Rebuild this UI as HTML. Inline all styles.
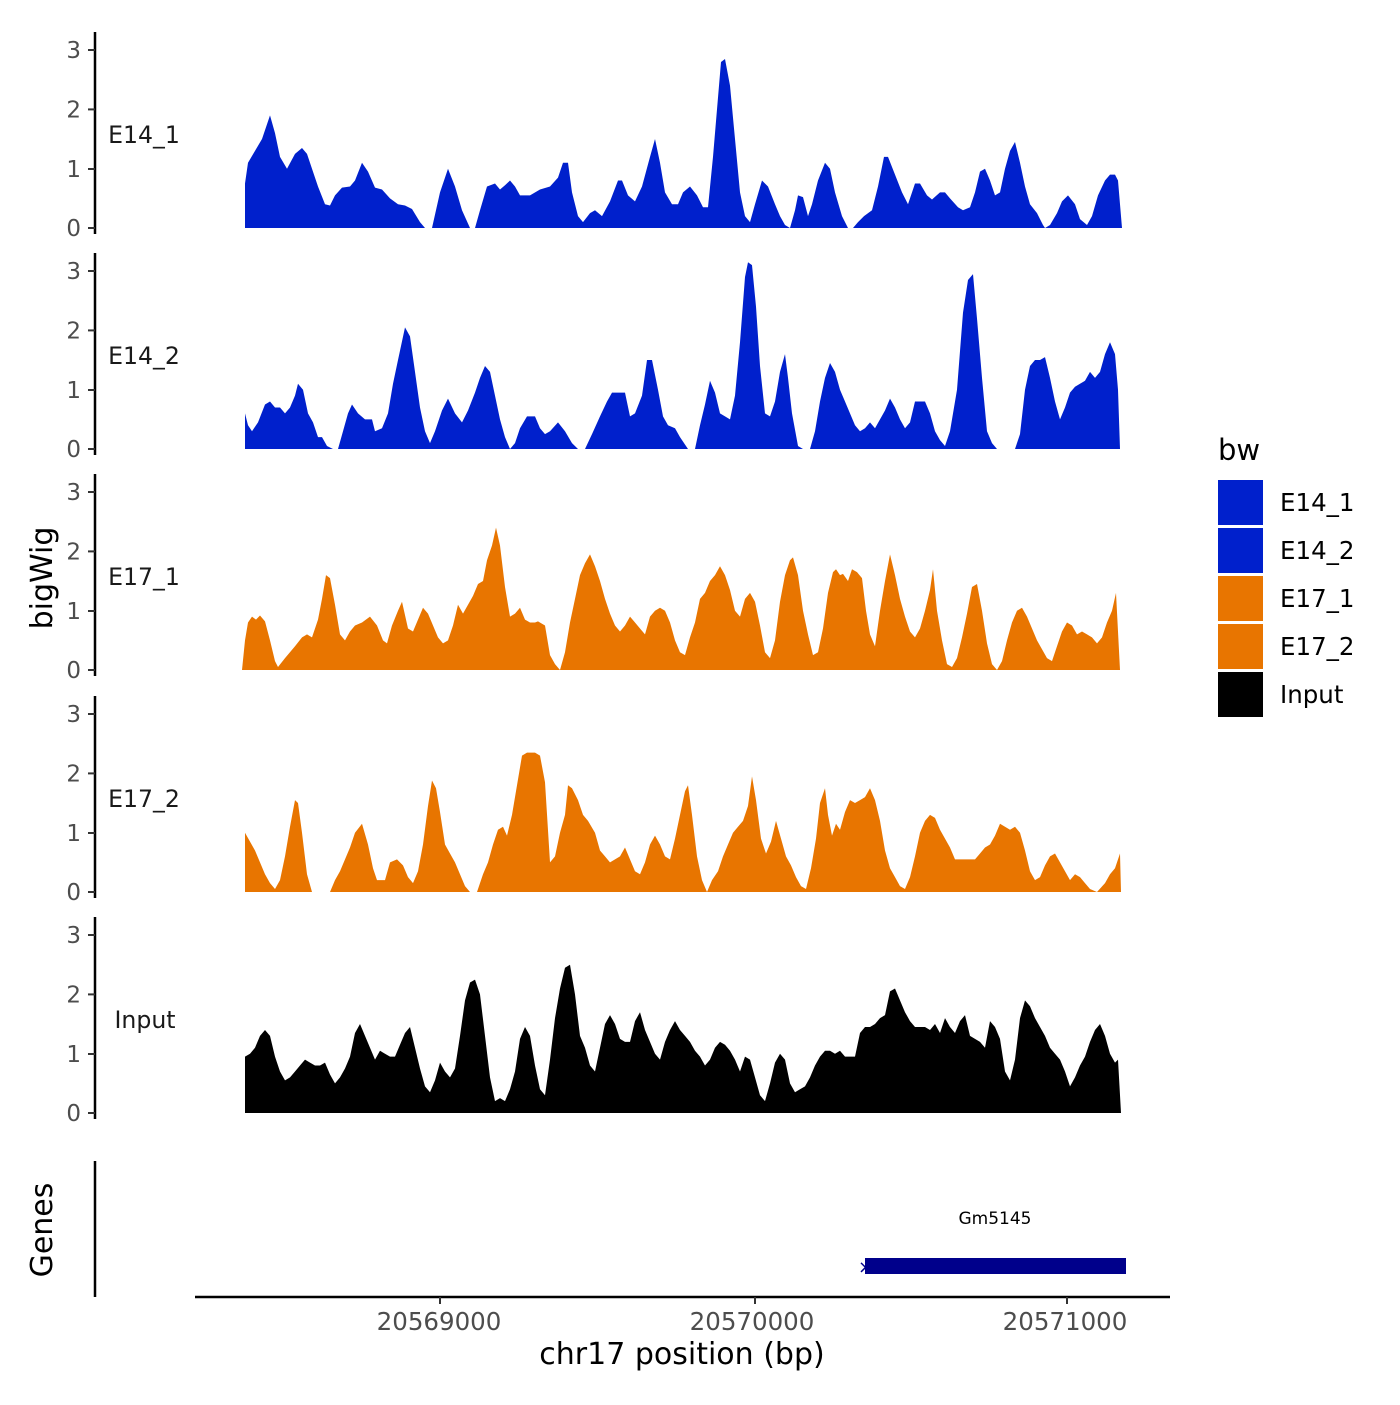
<!DOCTYPE html>
<html><head><meta charset="utf-8"><style>
body{margin:0;background:#fff}
svg text{font-family:"DejaVu Sans","Liberation Sans",sans-serif}
</style></head><body>
<svg width="1400" height="1400" viewBox="0 0 1400 1400" xmlns="http://www.w3.org/2000/svg">
<rect width="1400" height="1400" fill="#fff"/>
<defs>
<g id="yax">
<line x1="95" y1="-196" x2="95" y2="6" stroke="#000" stroke-width="2.5"/>
<g stroke="#333" stroke-width="2">
<line x1="88" y1="0" x2="95" y2="0"/><line x1="88" y1="-59" x2="95" y2="-59"/>
<line x1="88" y1="-118.6" x2="95" y2="-118.6"/><line x1="88" y1="-178" x2="95" y2="-178"/></g>
<g fill="#4d4d4d" font-size="23" text-anchor="end">
<text x="81" y="8">0</text><text x="81" y="-51">1</text><text x="81" y="-110.6">2</text><text x="81" y="-170">3</text></g>
</g>
</defs>

<g transform="translate(0,228)"><use href="#yax"/>
<polygon fill="#0020CC" transform="scale(1,-59.3)" points="245,0 245,0.75 248,1.1 255,1.3 262,1.5 270,1.9 275,1.6 280,1.2 287,1.0 295,1.25 302,1.35 307,1.25 312,1.0 318,0.7 325,0.4 330,0.38 335,0.55 342,0.68 350,0.7 355,0.8 362,1.1 368,0.95 375,0.68 382,0.65 390,0.5 398,0.4 405,0.38 412,0.32 420,0.1 425,0 432,0 440,0.6 448,1.0 455,0.7 462,0.3 470,0 475,0 480,0.3 487,0.7 495,0.75 500,0.65 505,0.72 510,0.8 515,0.7 520,0.55 530,0.55 540,0.65 550,0.7 558,0.85 563,1.1 568,1.1 572,0.6 578,0.2 583,0.1 590,0.25 595,0.3 602,0.2 610,0.45 618,0.8 622,0.8 628,0.55 635,0.45 642,0.7 650,1.2 655,1.5 660,1.1 665,0.6 672,0.4 678,0.4 683,0.6 690,0.7 697,0.55 703,0.35 708,0.35 713,1.2 718,2.2 721,2.8 725,2.85 730,2.4 735,1.5 740,0.6 745,0.2 750,0.1 755,0.4 762,0.8 768,0.7 775,0.4 780,0.2 785,0.05 790,0 795,0.3 798,0.55 803,0.52 808,0.2 812,0.4 818,0.8 825,1.1 830,1.0 835,0.6 842,0.2 848,0 853,0 858,0.1 864,0.2 872,0.3 878,0.7 884,1.2 888,1.2 895,0.9 902,0.6 908,0.4 915,0.75 920,0.75 927,0.55 932,0.48 940,0.6 945,0.6 950,0.5 958,0.35 963,0.3 970,0.35 975,0.6 980,0.95 985,1.0 990,0.8 995,0.55 1000,0.6 1005,1.0 1010,1.3 1015,1.45 1020,1.1 1025,0.7 1030,0.4 1037,0.25 1043,0.05 1045,0 1050,0.05 1057,0.25 1062,0.45 1068,0.55 1075,0.4 1080,0.15 1087,0.05 1092,0.2 1098,0.55 1105,0.8 1110,0.9 1115,0.9 1118,0.8 1122,0"/>
<text x="144" y="-85" font-size="23.6" text-anchor="middle" fill="#1a1a1a">E14_1</text></g>

<g transform="translate(0,449)"><use href="#yax"/>
<polygon fill="#0020CC" transform="scale(1,-59.3)" points="245,0 245,0.6 248,0.4 252,0.3 258,0.45 265,0.75 270,0.8 275,0.7 280,0.7 285,0.6 290,0.7 295,0.9 298,1.1 303,1.0 308,0.6 313,0.45 318,0.2 322,0.2 327,0.05 333,0 338,0 343,0.3 348,0.6 352,0.75 358,0.6 365,0.5 372,0.5 375,0.3 382,0.35 388,0.6 393,1.1 398,1.5 405,2.05 410,1.9 415,1.3 420,0.7 425,0.3 430,0.1 435,0.3 442,0.65 448,0.85 455,0.6 462,0.45 468,0.65 475,0.95 480,1.2 485,1.4 490,1.3 495,0.9 500,0.5 505,0.2 510,0 515,0.1 520,0.35 527,0.55 535,0.55 540,0.35 545,0.25 550,0.3 558,0.45 565,0.3 572,0.1 578,0 585,0 592,0.25 600,0.55 607,0.8 612,0.95 625,0.95 630,0.55 635,0.6 642,0.9 647,1.5 652,1.5 658,1.0 663,0.55 668,0.4 675,0.35 680,0.2 688,0 695,0 700,0.4 705,0.75 710,1.15 715,0.95 720,0.6 725,0.55 730,0.5 735,0.9 740,1.8 745,2.9 748,3.15 752,3.1 756,2.4 760,1.4 765,0.6 770,0.55 775,0.8 780,1.3 785,1.6 788,1.2 792,0.6 798,0.05 803,0 810,0 815,0.3 820,0.8 825,1.2 830,1.45 835,1.3 840,1.0 845,0.8 850,0.6 855,0.4 860,0.3 865,0.35 870,0.45 875,0.35 880,0.5 885,0.65 890,0.85 895,0.7 900,0.5 905,0.35 910,0.45 915,0.8 920,0.8 925,0.8 930,0.6 935,0.3 940,0.15 945,0.05 950,0.3 957,1.0 963,2.3 968,2.85 973,2.95 977,2.2 982,1.2 987,0.3 992,0.1 997,0 1015,0 1020,0.25 1025,1.0 1030,1.4 1035,1.5 1040,1.5 1045,1.55 1050,1.2 1055,0.8 1060,0.5 1065,0.7 1070,0.95 1075,1.05 1080,1.1 1085,1.15 1090,1.3 1095,1.2 1100,1.3 1105,1.6 1110,1.8 1115,1.6 1118,1.0 1120,0"/>
<text x="144" y="-85" font-size="23.6" text-anchor="middle" fill="#1a1a1a">E14_2</text></g>

<g transform="translate(0,670)"><use href="#yax"/>
<polygon fill="#E87500" transform="scale(1,-59.3)" points="242,0 245,0.5 248,0.8 252,0.9 256,0.85 260,0.92 265,0.82 270,0.5 275,0.15 278,0.05 285,0.2 295,0.4 302,0.55 307,0.6 312,0.55 318,0.85 322,1.2 326,1.6 330,1.55 335,1.1 340,0.6 345,0.5 350,0.65 355,0.75 362,0.8 370,0.9 377,0.75 383,0.5 387,0.45 392,0.75 398,1.0 402,1.15 408,0.7 413,0.65 418,0.85 423,1.05 428,0.95 433,0.75 438,0.55 443,0.45 448,0.5 453,0.75 458,1.1 463,0.95 468,1.1 473,1.25 478,1.45 483,1.5 487,1.85 492,2.1 496,2.4 500,2.1 505,1.4 510,0.9 515,0.95 520,1.05 525,0.85 530,0.8 535,0.8 538,0.82 545,0.75 550,0.25 555,0.1 560,0 565,0.3 570,0.8 575,1.2 580,1.6 585,1.8 590,1.95 595,1.75 600,1.5 605,1.2 610,0.95 615,0.75 620,0.65 625,0.75 630,0.9 635,0.8 640,0.7 645,0.6 650,0.9 655,1.0 660,1.05 665,1.0 670,0.8 675,0.5 680,0.3 685,0.25 690,0.55 695,0.8 700,1.2 705,1.3 710,1.5 715,1.6 720,1.75 725,1.6 730,1.35 735,1.0 740,0.9 745,1.2 750,1.3 755,1.15 760,0.75 765,0.3 770,0.2 775,0.5 780,1.15 785,1.6 790,1.85 793,1.9 798,1.6 803,1.0 808,0.6 813,0.25 818,0.3 823,0.7 828,1.3 833,1.65 836,1.7 840,1.6 843,1.62 848,1.5 852,1.7 857,1.65 862,1.55 866,1.0 870,0.6 875,0.4 880,1.0 885,1.5 890,1.95 895,1.6 900,1.2 905,0.9 910,0.65 915,0.55 920,0.7 925,1.0 930,1.35 933,1.7 937,1.0 942,0.5 947,0.1 952,0.05 957,0.2 962,0.55 967,0.95 972,1.4 977,1.45 982,1.0 987,0.45 992,0.1 997,0 1002,0.15 1007,0.5 1012,0.8 1017,1.0 1022,1.05 1027,0.9 1032,0.7 1037,0.5 1042,0.35 1047,0.2 1052,0.15 1057,0.4 1062,0.65 1067,0.8 1072,0.75 1077,0.6 1082,0.65 1087,0.6 1092,0.55 1097,0.45 1102,0.55 1107,0.8 1112,1.0 1116,1.3 1120,0"/>
<text x="144" y="-85" font-size="23.6" text-anchor="middle" fill="#1a1a1a">E17_1</text></g>

<g transform="translate(0,892)"><use href="#yax"/>
<polygon fill="#E87500" transform="scale(1,-59.3)" points="245,0 245,1.0 250,0.85 255,0.7 260,0.5 265,0.3 270,0.15 275,0.05 280,0.2 285,0.6 290,1.1 295,1.55 298,1.5 302,1.0 307,0.3 312,0 330,0 335,0.2 340,0.35 345,0.55 350,0.75 355,1.0 362,1.15 368,0.8 373,0.4 377,0.2 385,0.2 390,0.5 397,0.55 403,0.45 408,0.25 413,0.15 418,0.35 423,0.8 428,1.45 432,1.88 436,1.75 440,1.35 445,0.8 450,0.65 455,0.5 460,0.3 465,0.1 470,0 477,0 483,0.3 488,0.5 493,0.8 498,1.05 503,1.1 507,0.95 512,1.3 517,1.8 522,2.3 527,2.35 535,2.35 540,2.3 545,1.85 550,0.5 555,0.6 560,1.0 565,1.3 568,1.8 572,1.75 578,1.55 583,1.3 588,1.2 595,1.0 600,0.7 605,0.6 610,0.5 615,0.55 620,0.6 625,0.75 630,0.55 635,0.35 640,0.3 645,0.5 650,0.8 655,0.95 660,0.8 665,0.6 670,0.55 675,0.9 680,1.3 685,1.7 688,1.8 692,1.3 697,0.6 702,0.2 707,0 712,0.2 718,0.35 723,0.6 728,0.8 733,1.0 738,1.1 743,1.2 748,1.45 752,1.95 756,1.55 761,0.9 766,0.65 771,0.85 776,1.2 781,0.9 786,0.6 791,0.45 796,0.25 801,0.1 806,0.05 811,0.4 816,0.9 820,1.5 825,1.75 828,1.3 832,0.95 836,1.15 840,1.05 845,1.35 850,1.55 855,1.5 860,1.55 865,1.6 870,1.75 875,1.55 880,1.2 885,0.7 890,0.4 895,0.25 900,0.1 905,0.05 910,0.25 915,0.6 920,1.0 925,1.2 930,1.3 935,1.25 940,1.05 945,0.9 950,0.75 955,0.55 960,0.55 975,0.55 980,0.65 985,0.75 990,0.8 995,0.95 1000,1.15 1005,1.1 1010,1.05 1015,1.1 1020,1.0 1025,0.7 1030,0.35 1035,0.2 1040,0.25 1045,0.45 1050,0.6 1055,0.65 1060,0.5 1065,0.35 1070,0.2 1075,0.3 1080,0.25 1085,0.15 1090,0.05 1097,0 1105,0.15 1110,0.3 1115,0.4 1120,0.65 1121,0"/>
<text x="144" y="-85" font-size="23.6" text-anchor="middle" fill="#1a1a1a">E17_2</text></g>

<g transform="translate(0,1113)"><use href="#yax"/>
<polygon fill="#000" transform="scale(1,-59.3)" points="245,0 245,0.95 250,1.0 255,1.1 260,1.3 265,1.4 270,1.3 275,0.95 280,0.7 285,0.55 290,0.6 295,0.7 300,0.8 305,0.9 310,0.85 315,0.8 320,0.8 325,0.85 330,0.65 335,0.5 340,0.6 345,0.75 350,0.95 355,1.35 360,1.5 365,1.3 370,1.1 375,0.9 380,1.05 385,1.0 390,0.95 395,0.95 400,1.15 405,1.35 410,1.45 415,1.1 420,0.75 425,0.45 430,0.35 435,0.55 440,0.85 445,0.7 450,0.6 455,0.75 460,1.3 465,1.9 470,2.2 475,2.25 480,2.0 485,1.3 490,0.6 495,0.2 500,0.25 505,0.2 510,0.4 515,0.7 520,1.25 525,1.45 530,1.3 535,0.8 540,0.4 545,0.3 550,0.9 555,1.6 560,2.1 565,2.45 570,2.5 575,2.0 580,1.3 585,1.1 590,0.8 595,0.7 600,1.1 605,1.5 610,1.65 615,1.5 620,1.25 625,1.2 630,1.2 635,1.55 640,1.7 645,1.4 650,1.2 655,1.0 660,0.9 665,1.2 670,1.4 675,1.55 680,1.4 685,1.3 690,1.2 695,1.05 700,0.95 705,0.8 710,0.9 715,1.1 720,1.2 725,1.15 730,1.05 735,0.9 740,0.7 745,0.95 750,0.9 755,0.6 760,0.3 765,0.2 770,0.5 775,0.85 780,1.0 785,0.9 790,0.5 795,0.35 800,0.4 805,0.45 810,0.6 815,0.8 820,0.95 825,1.05 830,1.05 835,1.0 840,1.05 845,0.95 855,0.95 860,1.35 865,1.45 870,1.45 875,1.5 880,1.6 885,1.65 890,2.05 895,2.1 900,1.9 905,1.7 910,1.55 915,1.45 925,1.45 930,1.4 935,1.5 940,1.35 945,1.6 950,1.45 955,1.35 960,1.55 965,1.65 970,1.3 975,1.25 980,1.2 985,1.1 990,1.55 995,1.45 1000,1.25 1005,0.7 1010,0.55 1015,0.9 1020,1.6 1025,1.9 1030,1.8 1035,1.6 1040,1.45 1045,1.3 1050,1.1 1055,1.0 1060,0.9 1065,0.7 1070,0.45 1075,0.6 1080,0.8 1085,0.95 1090,1.2 1095,1.4 1100,1.5 1105,1.3 1110,1.0 1115,0.85 1118,0.9 1121,0"/>
<text x="145" y="-85" font-size="23.6" text-anchor="middle" fill="#1a1a1a">Input</text></g>

<text transform="translate(52,578) rotate(-90)" font-size="30" text-anchor="middle" fill="#000">bigWig</text>

<line x1="95" y1="1161" x2="95" y2="1297" stroke="#000" stroke-width="2.5"/>
<text transform="translate(52,1230) rotate(-90)" font-size="30" text-anchor="middle" fill="#000">Genes</text>
<rect x="865" y="1258" width="261" height="16" fill="#00008B"/>
<text x="858" y="1273" font-size="18" fill="#00008B">×</text>
<text x="995" y="1224" font-size="17" text-anchor="middle" fill="#000">Gm5145</text>

<line x1="195" y1="1297" x2="1170" y2="1297" stroke="#000" stroke-width="2.5"/>
<g stroke="#333" stroke-width="2"><line x1="440" y1="1297" x2="440" y2="1304"/><line x1="755" y1="1297" x2="755" y2="1304"/><line x1="1067" y1="1297" x2="1067" y2="1304"/></g>
<g font-size="24.5" fill="#4d4d4d" text-anchor="middle"><text x="439" y="1330">20569000</text><text x="752" y="1330">20570000</text><text x="1065" y="1330">20571000</text></g>
<text x="682" y="1364" font-size="30" text-anchor="middle" fill="#000">chr17 position (bp)</text>

<text x="1218" y="460" font-size="29" fill="#000">bw</text>
<rect x="1218" y="480" width="45" height="45" fill="#0020CC"/>
<rect x="1218" y="528" width="45" height="45" fill="#0020CC"/>
<rect x="1218" y="576" width="45" height="45" fill="#E87500"/>
<rect x="1218" y="624" width="45" height="45" fill="#E87500"/>
<rect x="1218" y="672" width="45" height="45" fill="#000"/>
<g font-size="24.5" fill="#000"><text x="1280" y="511">E14_1</text><text x="1280" y="559">E14_2</text><text x="1280" y="607">E17_1</text><text x="1280" y="655">E17_2</text><text x="1280" y="703">Input</text></g>
</svg>
</body></html>
